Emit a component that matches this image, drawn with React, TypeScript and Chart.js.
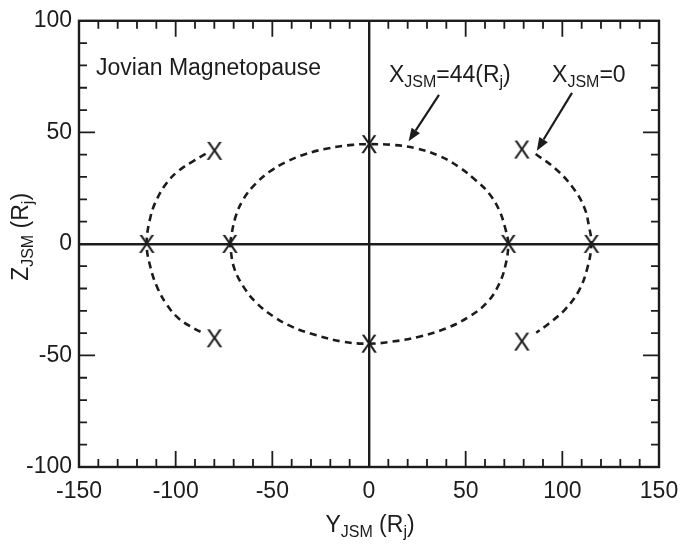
import React, { useEffect, useRef } from "react";
import { Chart, registerables } from "chart.js";

Chart.register(...registerables);

const FONT = "'Liberation Sans', Arial, Helvetica, sans-serif";
const INK = "#1c1c1c";

// Axis extents and tick spacing (R_j)
const yJsmRange = [-150, 150];
const zJsmRange = [-100, 100];
const minorStep = 10;
const majorStep = 50;

// Magnetopause cross-section at X_JSM = 44 R_j (closed loop)
const innerY = [-72, -69, -64.7, -58.6, -51.7, -43.1, -32.7, -20.7, -8.6, 0, 12, 24.2, 36.2, 46.6, 55.2, 62.1, 67.3, 70.7, 72, 70.7, 67.3, 61.2, 51.7, 39.7, 25.9, 12, 0, -13.8, -27.6, -39.7, -49.1, -57.8, -64.7, -69.8, -72];
const innerZ = [0, 12.2, 20.4, 27, 32.2, 36.6, 40.3, 42.9, 44.4, 44.7, 44.4, 42.9, 39.5, 34.4, 28.5, 22.6, 15.2, 6.3, 0, -9.1, -18, -26.1, -32.7, -37.9, -41.6, -43.8, -44.7, -43.8, -40.8, -37.2, -32.7, -26.8, -19.5, -10.6, 0];

// Magnetopause at X_JSM = 0, dusk-side flank
const duskY = [-84.5, -90.5, -98.3, -104.3, -109.5, -113, -115, -113, -109.5, -104.3, -98.3, -89.7, -86];
const duskZ = [40.3, 37.3, 32.9, 27.7, 20.4, 12.2, 0, -10.6, -19.5, -27.6, -33.5, -38.3, -39.8];

// Magnetopause at X_JSM = 0, dawn-side flank
const dawnY = [86.2, 96.6, 105.2, 111.2, 113.8, 115, 113, 108.6, 101.7, 93.1, 86.5];
const dawnZ = [40.3, 33.6, 25.5, 16.7, 7.8, 0, -10.6, -20.9, -29.1, -35.7, -39.8];

// Marked boundary positions
const markY = [-115, -72, 0, 0, 72, 115, -80, -80, 79, 79];
const markZ = [0, 0, 44.7, -44.7, 0, 0, 41.7, -42.3, 42.3, -43.8];

type Part = [string, boolean];

// Text annotations, anchored in data units (left edge, baseline)
const titleText: Part[] = [["Jovian Magnetopause", false]];
const label44: Part[] = [["X", false], ["JSM", true], ["=44(R", false], ["j", true], [")", false]];
const label0: Part[] = [["X", false], ["JSM", true], ["=0", false]];
const xTitle: Part[] = [["Y", false], ["JSM", true], [" (R", false], ["j", true], [")", false]];
const yTitle: Part[] = [["Z", false], ["JSM", true], [" (R", false], ["j", true], [")", false]];

const annotations = [
  { parts: titleText, at: [-141.2, 75.7] },
  { parts: label44, at: [10.3, 72.6] },
  { parts: label0, at: [94.7, 72.6] },
];

// Arrows: tail -> head, in data units
const arrows = [
  { from: [36.2, 66.8], to: [20.5, 46] },
  { from: [105, 67.7], to: [86.8, 41.8] },
];

const toPoints = (xs: number[], ys: number[]) => xs.map((x, i) => ({ x, y: ys[i] }));

const BIG = 23;
const SMALL = 16;

function richWidth(ctx: CanvasRenderingContext2D, parts: Part[]) {
  let w = 0;
  for (const [t, sub] of parts) {
    ctx.font = `${sub ? SMALL : BIG}px ${FONT}`;
    w += ctx.measureText(t).width;
  }
  return w;
}

function drawRich(ctx: CanvasRenderingContext2D, parts: Part[], x: number, y: number) {
  let cx = x;
  ctx.textAlign = "left";
  ctx.textBaseline = "alphabetic";
  for (const [t, sub] of parts) {
    ctx.font = `${sub ? SMALL : BIG}px ${FONT}`;
    ctx.fillText(t, cx, sub ? y + 5 : y);
    cx += ctx.measureText(t).width;
  }
}

const framePlugin = {
  id: "frameTicksText",
  afterDraw(chart: any) {
    const { ctx, chartArea: a, scales } = chart;
    const xs = scales.x;
    const ys = scales.y;
    ctx.save();
    ctx.strokeStyle = INK;
    ctx.fillStyle = INK;

    // inward tick marks on all four sides
    ctx.lineWidth = 1.8;
    ctx.beginPath();
    for (const t of xs.ticks) {
      const px = xs.getPixelForValue(t.value);
      const len = t.value % majorStep === 0 ? 16 : 8;
      ctx.moveTo(px, a.bottom);
      ctx.lineTo(px, a.bottom - len);
      ctx.moveTo(px, a.top);
      ctx.lineTo(px, a.top + len);
    }
    for (const t of ys.ticks) {
      const py = ys.getPixelForValue(t.value);
      const len = t.value % majorStep === 0 ? 16 : 8;
      ctx.moveTo(a.left, py);
      ctx.lineTo(a.left + len, py);
      ctx.moveTo(a.right, py);
      ctx.lineTo(a.right - len, py);
    }
    ctx.stroke();

    // frame
    ctx.lineWidth = 2.4;
    ctx.strokeRect(a.left, a.top, a.right - a.left, a.bottom - a.top);

    // annotations
    for (const an of annotations) {
      drawRich(ctx, an.parts, xs.getPixelForValue(an.at[0]), ys.getPixelForValue(an.at[1]));
    }

    // arrows
    ctx.lineWidth = 2.2;
    for (const ar of arrows) {
      const x0 = xs.getPixelForValue(ar.from[0]);
      const y0 = ys.getPixelForValue(ar.from[1]);
      const x1 = xs.getPixelForValue(ar.to[0]);
      const y1 = ys.getPixelForValue(ar.to[1]);
      const ang = Math.atan2(y1 - y0, x1 - x0);
      const head = 13;
      const half = 5;
      const bx = x1 - head * Math.cos(ang);
      const by = y1 - head * Math.sin(ang);
      ctx.beginPath();
      ctx.moveTo(x0, y0);
      ctx.lineTo(bx, by);
      ctx.stroke();
      ctx.beginPath();
      ctx.moveTo(x1, y1);
      ctx.lineTo(bx + half * Math.sin(ang), by - half * Math.cos(ang));
      ctx.lineTo(bx - half * Math.sin(ang), by + half * Math.cos(ang));
      ctx.closePath();
      ctx.fill();
    }

    // axis titles
    const cxMid = (a.left + a.right) / 2;
    const wx = richWidth(ctx, xTitle);
    drawRich(ctx, xTitle, cxMid - wx / 2 + 1, a.bottom + 65);

    const cyMid = (a.top + a.bottom) / 2 - 7;
    const wy = richWidth(ctx, yTitle);
    ctx.translate(a.left - 51, cyMid + wy / 2);
    ctx.rotate(-Math.PI / 2);
    drawRich(ctx, yTitle, 0, 0);
    ctx.restore();
  },
};

// "X" glyph used as the marker symbol
function makeCross(): HTMLCanvasElement {
  const c = document.createElement("canvas");
  c.width = 24;
  c.height = 26;
  const g = c.getContext("2d")!;
  g.fillStyle = INK;
  g.font = `25px ${FONT}`;
  g.textAlign = "center";
  g.textBaseline = "alphabetic";
  g.fillText("X", 12, 13 + 9);
  return c;
}

export default function App() {
  const ref = useRef<HTMLCanvasElement | null>(null);

  useEffect(() => {
    if (!ref.current) return;
    const cross = makeCross();
    const curve = {
      showLine: true,
      borderColor: INK,
      borderWidth: 2.6,
      borderDash: [7, 5],
      pointRadius: 0,
      tension: 0.4,
      fill: false,
    };
    const zeroGrid = {
      drawTicks: false,
      lineWidth: 2.4,
      color: (c: any) => (c.tick && c.tick.value === 0 ? INK : "rgba(0,0,0,0)"),
    };
    const tickLabel = (v: any) => (Number(v) % majorStep === 0 ? String(v) : "");

    const chart = new Chart(ref.current, {
      type: "scatter",
      data: {
        datasets: [
          { ...curve, data: toPoints(innerY, innerZ) },
          { ...curve, data: toPoints(duskY, duskZ) },
          { ...curve, data: toPoints(dawnY, dawnZ) },
          {
            data: toPoints(markY, markZ),
            showLine: false,
            pointStyle: cross as any,
            pointRadius: 10,
          },
        ],
      } as any,
      options: {
        animation: false,
        responsive: false,
        devicePixelRatio: 1,
        layout: { padding: { top: 15, right: 35, left: 0, bottom: 0 } },
        plugins: { legend: { display: false }, tooltip: { enabled: false } },
        scales: {
          x: {
            type: "linear",
            min: yJsmRange[0],
            max: yJsmRange[1],
            border: { display: false },
            grid: zeroGrid as any,
            ticks: {
              stepSize: minorStep,
              autoSkip: false,
              maxRotation: 0,
              padding: 11,
              color: INK,
              font: { family: FONT, size: BIG },
              callback: tickLabel,
            },
            afterFit: (s: any) => {
              s.height = 81;
            },
          },
          y: {
            type: "linear",
            min: zJsmRange[0],
            max: zJsmRange[1],
            border: { display: false },
            grid: zeroGrid as any,
            ticks: {
              stepSize: minorStep,
              autoSkip: false,
              padding: 7,
              color: INK,
              font: { family: FONT, size: BIG },
              callback: tickLabel,
            },
            afterFit: (s: any) => {
              s.width = 79;
            },
          },
        },
      },
      plugins: [framePlugin],
    });
    return () => chart.destroy();
  }, []);

  return (
    <div style={{ position: "absolute", left: 0, top: 0, width: 694, height: 548, background: "#fff" }}>
      <canvas ref={ref} width={694} height={548} style={{ display: "block" }} />
    </div>
  );
}
